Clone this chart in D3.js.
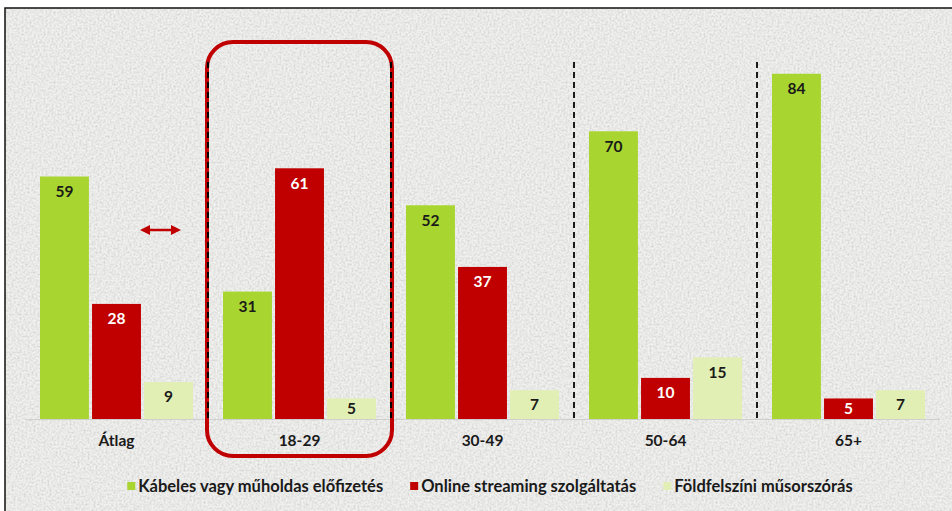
<!DOCTYPE html>
<html>
<head>
<meta charset="utf-8">
<script src="https://cdn.jsdelivr.net/npm/d3@7"></script>
<style>
  html, body { margin: 0; padding: 0; background: #fff; }
  svg { display: block; font-family: Lato, "Open Sans", sans-serif; }
</style>
</head>
<body>
<svg></svg>
<script>
const size = {w: 952, h: 511};
const plot = {l: 25, r: 940, base: 419, top: 8};

// data
const categories = ['Átlag', '18-29', '30-49', '50-64', '65+'];
const cable = [59, 31, 52, 70, 84];
const streaming = [28, 61, 37, 10, 5];
const terrestrial = [9, 5, 7, 15, 7];
const seriesNames = ['Kábeles vagy műholdas előfizetés', 'Online streaming szolgáltatás', 'Földfelszíni műsorszórás'];
const seriesColors = ['#a8d52f', '#c00000', '#e1efb4'];
const labelColors = ['#1a1a1a', '#ffffff', '#1a1a1a'];
const highlighted = '18-29';

const svg = d3.select('svg')
    .attr('width', size.w)
    .attr('height', size.h);

// textured grey background
const defs = svg.append('defs');
const f = defs.append('filter').attr('id', 'grain')
    .attr('x', 0).attr('y', 0).attr('width', '100%').attr('height', '100%');
f.append('feTurbulence').attr('type', 'fractalNoise')
    .attr('baseFrequency', 0.5).attr('numOctaves', 2).attr('seed', 4).attr('result', 'n');
f.append('feColorMatrix').attr('type', 'matrix')
    .attr('values', '0 0 0 0 0.5  0 0 0 0 0.5  0 0 0 0 0.5  0 0 0 -1.8 1.15');

svg.append('rect').attr('x', 5).attr('y', 8).attr('width', size.w).attr('height', size.h)
    .attr('fill', '#f1f1ef');
svg.append('rect').attr('x', 5).attr('y', 8).attr('width', size.w).attr('height', size.h)
    .attr('filter', 'url(#grain)').attr('opacity', 0.6);

// frame (top and left only visible)
svg.append('path')
    .attr('d', `M5,${size.h} V8 H${size.w}`)
    .attr('fill', 'none').attr('stroke', '#111').attr('stroke-width', 1.5);

const rows = categories.map((c, i) => ({cat: c, values: [cable[i], streaming[i], terrestrial[i]]}));

let x0 = d3.scaleBand()
    .domain(categories)
    .range([plot.l, plot.r]);

let x1 = d3.scaleBand()
    .domain([0, 1, 2])
    .range([15, x0.bandwidth() - 15])
    .paddingInner(0.06);

let y = d3.scaleLinear()
    .domain([0, 100])
    .range([plot.base, plot.top]);

// dashed separators between groups
svg.append('g').selectAll('line')
    .data(categories.slice(1))
    .join('line')
    .attr('x1', d => x0(d)).attr('x2', d => x0(d))
    .attr('y1', 62).attr('y2', plot.base)
    .attr('stroke', '#1a1a1a').attr('stroke-width', 2)
    .attr('stroke-dasharray', '6,4');

// baseline
svg.append('line')
    .attr('x1', plot.l).attr('x2', plot.r)
    .attr('y1', plot.base + 0.5).attr('y2', plot.base + 0.5)
    .attr('stroke', '#cfcfcf').attr('stroke-width', 1);

const groups = svg.append('g').selectAll('g')
    .data(rows)
    .join('g')
    .attr('transform', d => `translate(${x0(d.cat)},0)`);

groups.selectAll('rect')
    .data(d => d.values.map((v, k) => ({k, v})))
    .join('rect')
    .attr('x', d => x1(d.k))
    .attr('width', x1.bandwidth())
    .attr('y', d => y(d.v))
    .attr('height', d => y(0) - y(d.v))
    .attr('fill', d => seriesColors[d.k]);

groups.selectAll('text.val')
    .data(d => d.values.map((v, k) => ({k, v})))
    .join('text')
    .attr('class', 'val')
    .attr('x', d => x1(d.k) + x1.bandwidth() / 2)
    .attr('y', d => y(d.v) + Math.min(15, (y(0) - y(d.v)) / 2))
    .attr('dy', '0.35em')
    .attr('text-anchor', 'middle')
    .attr('font-size', 15.5)
    .attr('font-weight', 700)
    .attr('fill', d => labelColors[d.k])
    .text(d => d.v);

// category labels
svg.append('g').selectAll('text')
    .data(categories)
    .join('text')
    .attr('x', d => x0(d) + x0.bandwidth() / 2)
    .attr('y', 446)
    .attr('text-anchor', 'middle')
    .attr('font-size', 15.5)
    .attr('font-weight', 700)
    .attr('fill', '#1a1a1a')
    .text(d => d);

// highlight box around the youngest group
svg.append('rect')
    .attr('x', x0(highlighted) - 1)
    .attr('y', 42)
    .attr('width', x0.bandwidth() + 2)
    .attr('height', 414)
    .attr('rx', 26).attr('ry', 26)
    .attr('fill', 'none')
    .attr('stroke', '#c00000')
    .attr('stroke-width', 4);

// dashes showing through the box edges
const hi = categories.indexOf(highlighted);
svg.append('g').selectAll('line')
    .data([x0(categories[hi]), x0(categories[hi + 1])])
    .join('line')
    .attr('x1', d => d).attr('x2', d => d)
    .attr('y1', 62).attr('y2', plot.base)
    .attr('stroke', '#000').attr('stroke-width', 2)
    .attr('stroke-dasharray', '6,4');

// double-headed arrow
const mk = defs.append('marker').attr('id', 'ah')
    .attr('viewBox', '0 0 10 10').attr('refX', 5).attr('refY', 5)
    .attr('markerWidth', 4).attr('markerHeight', 4)
    .attr('orient', 'auto-start-reverse');
mk.append('path').attr('d', 'M0,0 L10,5 L0,10 Z').attr('fill', '#c00000');
svg.append('line')
    .attr('x1', 145).attr('x2', 176)
    .attr('y1', 230).attr('y2', 230)
    .attr('stroke', '#c00000').attr('stroke-width', 2.5)
    .attr('marker-start', 'url(#ah)').attr('marker-end', 'url(#ah)');

// legend
const legend = svg.append('g');
const items = legend.selectAll('g')
    .data(seriesNames)
    .join('g');
items.append('rect')
    .attr('width', 8).attr('height', 8)
    .attr('y', 482)
    .attr('fill', (d, i) => seriesColors[i]);
items.append('text')
    .attr('x', 11).attr('y', 491.5)
    .attr('font-size', 16.5)
    .attr('font-weight', 700)
    .attr('fill', '#1a1a1a')
    .text(d => d);

let widths = [];
items.each(function() { widths.push(this.querySelector('text').getComputedTextLength() + 11); });
const gap = 27;
const total = d3.sum(widths) + gap * (widths.length - 1);
let cx = 490 - total / 2;
items.attr('transform', (d, i) => {
    const t = `translate(${cx},0)`;
    cx += widths[i] + gap;
    return t;
});
</script>
</body>
</html>
